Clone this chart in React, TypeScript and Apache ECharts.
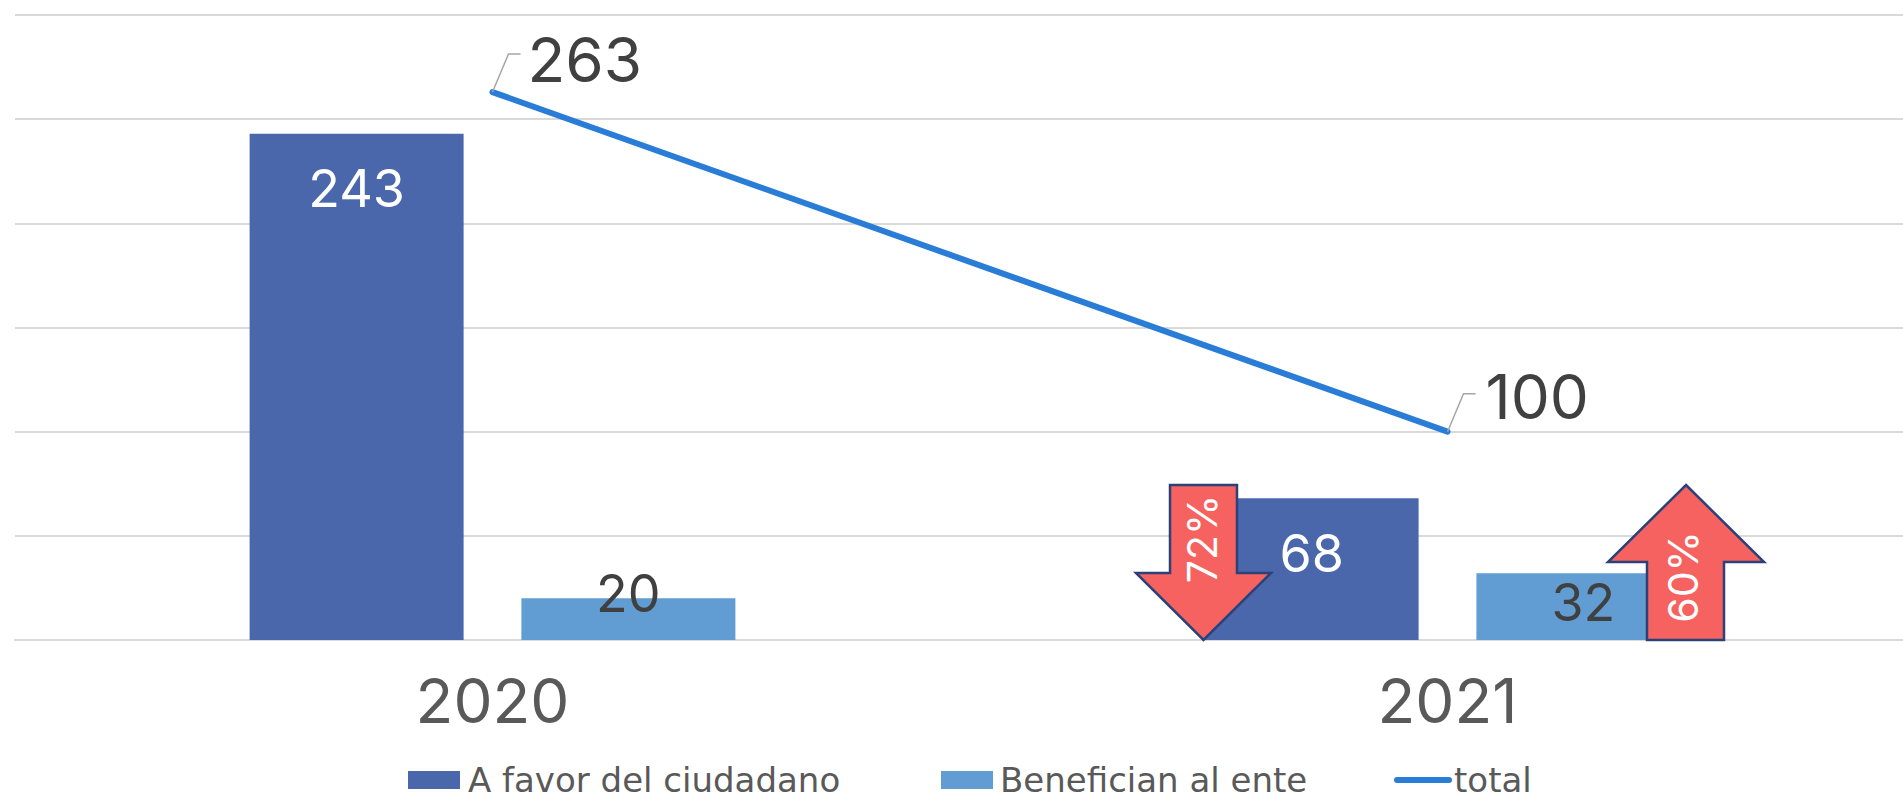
import React, { useEffect, useRef } from "react";
import * as echarts from "echarts";

const categories = ["2020", "2021"];
const aFavor = [243, 68];
const benefician = [20, 32];
const total = [263, 100];
const seriesNames = ["A favor del ciudadano", "Benefician al ente", "total"];
const FONT = "Inter, 'Noto Sans', sans-serif";
const ARROW_FILL = "#F66260";
const ARROW_STROKE = "#2B4278";
const LINE_COLOR = "#2A7DD6";

const arrow = (points: number[][]) => ({
  type: "polygon",
  z: 20,
  shape: { points },
  style: { fill: ARROW_FILL, stroke: ARROW_STROKE, lineWidth: 2.5 },
});
const arrowText = (text: string, x: number, y: number) => ({
  type: "text",
  z: 21,
  x,
  y,
  rotation: Math.PI / 2,
  style: { text, fill: "#fff", font: `41px ${FONT}`, textAlign: "center", textVerticalAlign: "middle" },
});
const legendAt = (left: number, textGap: number, item: object) => ({
  left,
  top: 763,
  padding: 0,
  itemWidth: 52,
  itemHeight: 18,
  textStyle: {
    color: "#595959",
    fontSize: 34,
    fontFamily: "'DejaVu Sans', sans-serif",
    padding: [0, 0, 10, textGap],
  },
  data: [item],
});

export default function App() {
  const ref = useRef<HTMLDivElement>(null);
  useEffect(() => {
    document.body.style.margin = "0";
    const chart = echarts.init(ref.current!, null, { renderer: "svg" });
    chart.setOption({
      animation: false,
      backgroundColor: "#fff",
      grid: { left: 15, top: 15, width: 1910, height: 625, outerBoundsMode: "none", containLabel: false },
      legend: [
        legendAt(408, 3, { name: seriesNames[0], icon: "rect" }),
        legendAt(941, 2, { name: seriesNames[1], icon: "rect" }),
        legendAt(1394, 0, {
          name: seriesNames[2],
          itemStyle: { color: "transparent", borderWidth: 0, opacity: 0 },
          lineStyle: { color: LINE_COLOR, width: 6, cap: "round" },
        }),
      ],
      xAxis: {
        type: "category",
        data: categories,
        axisTick: { show: false },
        axisLine: { lineStyle: { color: "#D9D9D9", width: 2 } },
        axisLabel: { color: "#595959", fontSize: 62, fontFamily: FONT, margin: 29 },
      },
      yAxis: {
        type: "value",
        min: 0,
        max: 300,
        interval: 50,
        axisLabel: { show: false },
        axisLine: { show: false },
        axisTick: { show: false },
        splitLine: { lineStyle: { color: "#D9D9D9", width: 2 } },
      },
      series: [
        {
          name: seriesNames[0],
          type: "bar",
          barWidth: 214,
          barGap: "27%",
          itemStyle: { color: "#4A67AC" },
          label: { show: true, position: "insideTop", distance: 29, color: "#fff", fontSize: 52, fontFamily: FONT },
          data: aFavor,
        },
        {
          name: seriesNames[1],
          type: "bar",
          barWidth: 214,
          barGap: "27%",
          itemStyle: { color: "#619CD2" },
          label: { show: true, position: "insideTop", color: "#404040", fontSize: 52, fontFamily: FONT },
          data: [
            { value: benefician[0], label: { distance: -31 } },
            { value: benefician[1], label: { distance: 3 } },
          ],
        },
        {
          name: seriesNames[2],
          type: "line",
          symbol: "circle",
          symbolSize: 4,
          z: 5,
          itemStyle: { color: LINE_COLOR },
          lineStyle: { color: LINE_COLOR, width: 6, cap: "round" },
          label: { show: true, position: "right", color: "#404040", fontSize: 62, fontFamily: FONT },
          data: [
            { value: total[0], label: { offset: [28, -33] } },
            { value: total[1], label: { offset: [31, -35] } },
          ],
        },
      ],
    });
    const leaders = total.map((v, i) => {
      const [x, y] = chart.convertToPixel({ gridIndex: 0 }, [i, v]) as number[];
      return {
        type: "polyline",
        z: 10,
        shape: { points: [[x, y], [x + 16, y - 38], [x + 28, y - 38]] },
        style: { stroke: "#A6A6A6", lineWidth: 1.5, fill: "none" },
      };
    });
    chart.setOption({
      graphic: [
        ...leaders,
        arrow([[1170, 485], [1237, 485], [1237, 573], [1271, 573], [1203.5, 640], [1136, 573], [1170, 573]]),
        arrowText("72%", 1201.5, 539),
        arrow([[1686, 485], [1764, 562], [1724, 562], [1724, 640], [1647, 640], [1647, 562], [1608, 562]]),
        arrowText("60%", 1683, 577),
      ],
    });
    return () => chart.dispose();
  }, []);
  return <div ref={ref} style={{ position: "fixed", left: 0, top: 0, width: 1903, height: 800 }} />;
}
